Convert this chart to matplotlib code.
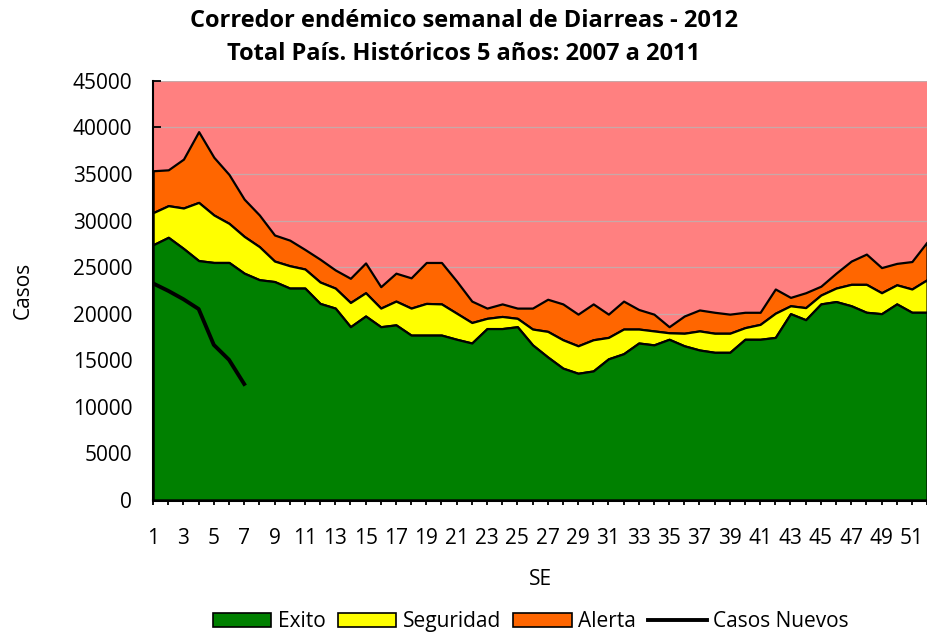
import numpy as np
import matplotlib.pyplot as plt
from matplotlib.patches import Patch
from matplotlib.lines import Line2D

# semanas epidemiologicas
semanas = list(range(1, 53))

# limites superiores de cada zona (acumulados)
exito = [27400, 28200, 27000, 25700, 25500, 25500, 24350, 23650, 23450, 22750,
         22750, 21100, 20600, 18600, 19750, 18600, 18800, 17700, 17700, 17700,
         17250, 16850, 18400, 18400, 18600, 16650, 15350, 14150, 13600, 13850,
         15150, 15700, 16850, 16650, 17250, 16550, 16100, 15850, 15850, 17250,
         17250, 17450, 20000, 19350, 21050, 21300, 20850, 20150, 20000, 21050,
         20150, 20150]
seguridad = [30850, 31600, 31350, 31950, 30600, 29700, 28300, 27200, 25650, 25150,
             24800, 23400, 22750, 21200, 22250, 20600, 21350, 20600, 21100, 21050,
             20050, 19050, 19500, 19700, 19500, 18350, 18100, 17200, 16550, 17200,
             17450, 18350, 18350, 18150, 17950, 17900, 18150, 17900, 17900, 18500,
             18850, 20050, 20850, 20650, 22000, 22750, 23150, 23150, 22250, 23100,
             22650, 23650]
alerta = [35350, 35450, 36600, 39550, 36800, 34950, 32300, 30600, 28450, 27900,
          26900, 25850, 24700, 23800, 25450, 22900, 24350, 23850, 25500, 25500,
          23500, 21350, 20600, 21050, 20600, 20600, 21550, 21050, 19950, 21050,
          19950, 21350, 20450, 19950, 18600, 19750, 20400, 20150, 19950, 20150,
          20150, 22650, 21750, 22250, 22950, 24350, 25650, 26400, 24950, 25400,
          25600, 27700]
epidemia_tope = 45000

# casos 2012
semanas_nuevos = [1, 2, 3, 4, 5, 6, 7]
casos_nuevos = [23250, 22450, 21550, 20500, 16650, 15050, 12450]

plt.rcParams['font.family'] = ['Open Sans', 'DejaVu Sans']

fig = plt.figure(figsize=(9.28, 6.32), dpi=100)
ax = fig.add_axes([0.165, 0.209, 0.834, 0.663])
ax.set_facecolor('#FF8080')

ax.fill_between(semanas, 0, exito, facecolor='#008000', edgecolor='black', linewidth=1.6, zorder=3)
ax.fill_between(semanas, exito, seguridad, facecolor='#FFFF00', edgecolor='black', linewidth=1.6, zorder=2)
ax.fill_between(semanas, seguridad, alerta, facecolor='#FF6600', edgecolor='black', linewidth=1.6, zorder=1)
ax.plot(semanas_nuevos, casos_nuevos, color='black', linewidth=2.8, zorder=4)

ax.set_xlim(1, 52)
ax.set_ylim(0, epidemia_tope)
ax.set_yticks(np.arange(0, 45001, 5000))
ax.set_xticks(semanas)
ax.set_xticklabels([str(s) if s % 2 == 1 else '' for s in semanas])
ax.tick_params(axis='x', direction='inout', length=7, width=1.3, labelsize=15, pad=17)
ax.tick_params(axis='y', direction='in', length=6, width=1.3, labelsize=15, pad=15)

ax.grid(axis='y', color='#C8A8A8', linewidth=0.9)
ax.set_axisbelow(True)
for s in ['top', 'right']:
    ax.spines[s].set_visible(False)
ax.spines['left'].set_linewidth(1.5)
ax.spines['bottom'].set_linewidth(2.2)

ax.set_xlabel('SE', fontsize=15, labelpad=14)
ax.set_ylabel('Casos', fontsize=15, labelpad=28)

fig.suptitle('Corredor endémico semanal de Diarreas - 2012\nTotal País. Históricos 5 años: 2007 a 2011',
             fontsize=17, fontweight='bold', y=0.985, linespacing=1.45)

handles = [Patch(facecolor='#008000', edgecolor='black', linewidth=1.2),
           Patch(facecolor='#FFFF00', edgecolor='black', linewidth=1.2),
           Patch(facecolor='#FF6600', edgecolor='black', linewidth=1.2),
           Line2D([0], [0], color='black', linewidth=2.8)]
fig.legend(handles, ['Exito', 'Seguridad', 'Alerta', 'Casos Nuevos'],
           loc='center', bbox_to_anchor=(0.572, 0.016), ncol=4, frameon=False,
           fontsize=15, handlelength=2.8, handleheight=0.6, handletextpad=0.3,
           columnspacing=0.6)

fig.savefig('out.png', dpi=100)
